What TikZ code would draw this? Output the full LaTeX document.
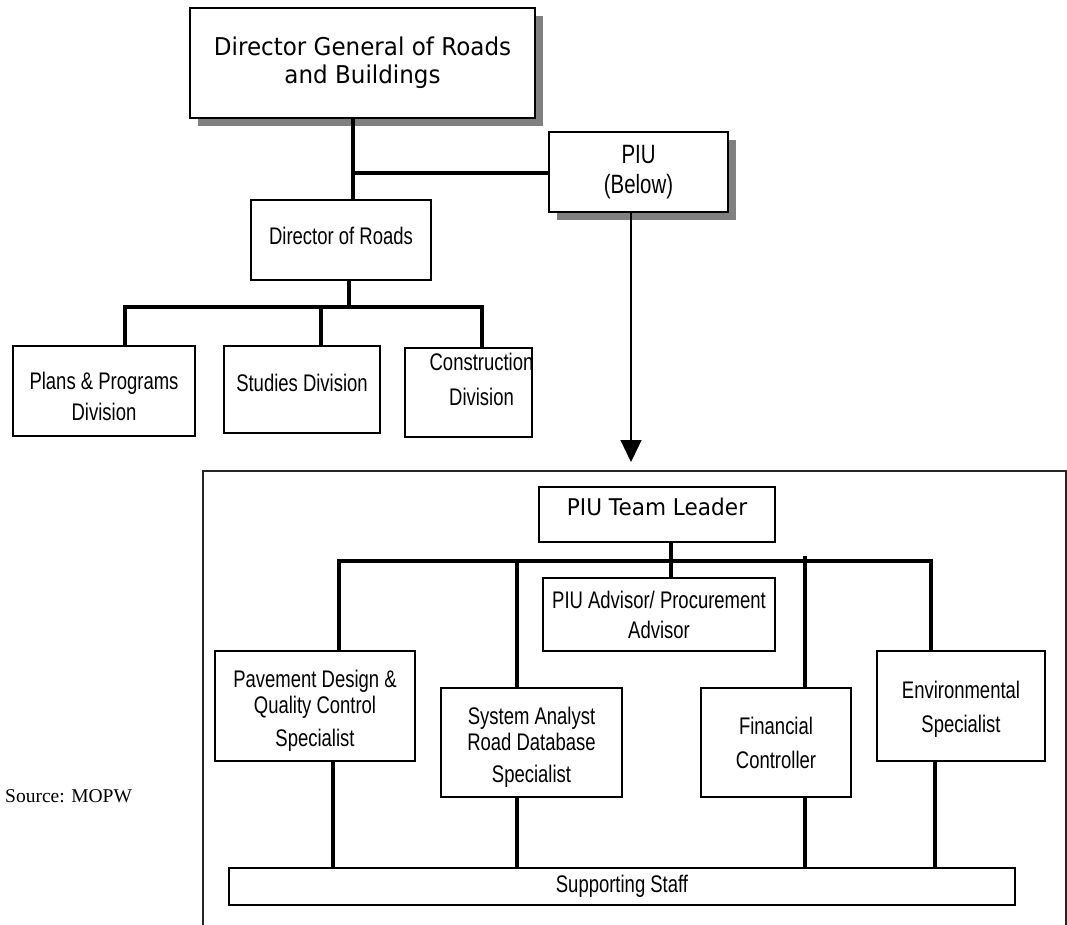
\documentclass[tikz,border=0pt]{standalone}
\usepackage{fontspec}
\setmainfont{Liberation Sans}
\newfontfamily\narrowf[FakeStretch=0.77]{Liberation Sans}
\newfontfamily\widef[FakeStretch=0.94]{DejaVu Sans}
\newfontfamily\seriff{Liberation Serif}
\usetikzlibrary{arrows.meta,shadows}
\newcommand\topgap[1]{\rule{0pt}{#1}}
\newcommand\botgap[1]{\rule[-#1]{0pt}{0pt}}
\newcommand\shiftx[2]{\makebox[0pt][c]{\hspace{#1}#2}}
\begin{document}
\begin{tikzpicture}[x=1pt,y=-1pt,
  box/.style={draw=black, line width=1.7pt, fill=white, inner sep=0pt, align=center,
              font=\narrowf\fontsize{24}{34}\selectfont},
  shadowed/.style={drop shadow={shadow xshift=8pt,shadow yshift=-8pt,fill=black!50,opacity=1}},
  conn/.style={line width=3.8pt, line join=miter},
  thinarrow/.style={line width=1.3pt, -{Triangle[width=21pt,length=22pt]}},
  framestyle/.style={line width=1.6pt, draw=black!85}]
\useasboundingbox (0,0) rectangle (1067,925);

% top part
\node[box, shadowed, minimum width=345pt, minimum height=110pt,
      font=\widef\fontsize{24.5}{28}\selectfont] (dg) at (362.5,63) {Director General of Roads\\and Buildings};
\node[box, shadowed, minimum width=179pt, minimum height=80pt,
      font=\narrowf\fontsize{26.5}{30}\selectfont] (piu) at (638.5,172) {PIU\\(Below)};
\node[box, minimum width=180pt, minimum height=80pt] (dor) at (341,240) {Director of Roads\botgap{8pt}};
\node[box, minimum width=182pt, minimum height=90pt,
      font=\narrowf\fontsize{24}{31}\selectfont] (plans) at (104,391) {\topgap{28.4pt}Plans \& Programs\\Division};
\node[box, minimum width=156pt, minimum height=87pt] (studies) at (302,389.5) {Studies Division\botgap{14pt}};
\node[box, minimum width=127pt, minimum height=89pt,
      font=\narrowf\fontsize{24}{35}\selectfont] (cons) at (468.5,392.5) {\shiftx{26pt}{Construction}\\\shiftx{26pt}{Division}\botgap{26pt}};

% frame
\draw[framestyle] (203,925) -- (203,471) -- (1066,471) -- (1066,925);

% PIU part
\node[box, minimum width=236pt, minimum height=55pt,
      font=\widef\fontsize{23}{26}\selectfont] (tl) at (657,514.5) {PIU Team Leader\botgap{16pt}};
\node[box, minimum width=232pt, minimum height=73pt,
      font=\narrowf\fontsize{24}{30}\selectfont] (adv) at (659,614.5) {PIU Advisor/ Procurement\\Advisor};
\node[box, minimum width=200pt, minimum height=110pt,
      font=\narrowf\fontsize{24}{33}\selectfont] (pav) at (315,706) {\topgap{26.4pt}Pavement Design \&\\[-7pt]Quality Control\\Specialist};
\node[box, minimum width=181pt, minimum height=109pt,
      font=\narrowf\fontsize{24}{33}\selectfont] (sa) at (531.5,742.5) {\topgap{27.4pt}System Analyst\\[-7pt]Road Database\\[-1pt]Specialist};
\node[box, minimum width=150pt, minimum height=109pt] (fin) at (776,742.5) {Financial\\Controller};
\node[box, minimum width=168pt, minimum height=110pt] (env) at (961,706) {\topgap{24.4pt}Environmental\\Specialist};
\node[box, minimum width=786pt, minimum height=37pt] (ss) at (622,886.5) {Supporting Staff};

\node[font=\seriff\fontsize{19.5}{23}\selectfont, anchor=west, inner sep=0pt] (src) at (5,796) {Source: MOPW};

% connectors, top part
\coordinate (j1) at (353,173);
\draw[conn] (dg.south -| j1) -- (dor.north -| j1);
\draw[conn] (j1) -- (piu.west |- j1);
\coordinate (j2) at (349,307);
\draw[conn] (dor.south -| j2) -- (j2);
\coordinate (bPl) at (125,307);
\coordinate (bSt) at (321,307);
\coordinate (bCo) at (482,307);
\draw[conn] (plans.north -| bPl) -- (bPl) -- (bCo) -- (cons.north -| bCo);
\draw[conn] (bSt) -- (studies.north -| bSt);

% arrow to PIU frame
\coordinate (arrowtip) at (631,462);
\draw[thinarrow] (piu.south -| arrowtip) -- (arrowtip);

% connectors, PIU part
\coordinate (tlx) at (671,0);
\draw[conn] (tl.south -| tlx) -- (adv.north -| tlx);
\coordinate (busL) at (339,561);
\coordinate (busR) at (931,561);
\draw[conn] (pav.north -| busL) -- (busL) -- (busR) -- (env.north -| busR);
\coordinate (bSA) at (517,561);
\draw[conn] (bSA) -- (sa.north -| bSA);
\coordinate (bFin) at (805,556);
\draw[conn] (bFin) -- (fin.north -| bFin);

\coordinate (lPav) at (333,0);
\coordinate (lSA) at (517,0);
\coordinate (lFin) at (805,0);
\coordinate (lEnv) at (935,0);
\draw[conn] (pav.south -| lPav) -- (ss.north -| lPav);
\draw[conn] (sa.south -| lSA) -- (ss.north -| lSA);
\draw[conn] (fin.south -| lFin) -- (ss.north -| lFin);
\draw[conn] (env.south -| lEnv) -- (ss.north -| lEnv);
\end{tikzpicture}
\end{document}
